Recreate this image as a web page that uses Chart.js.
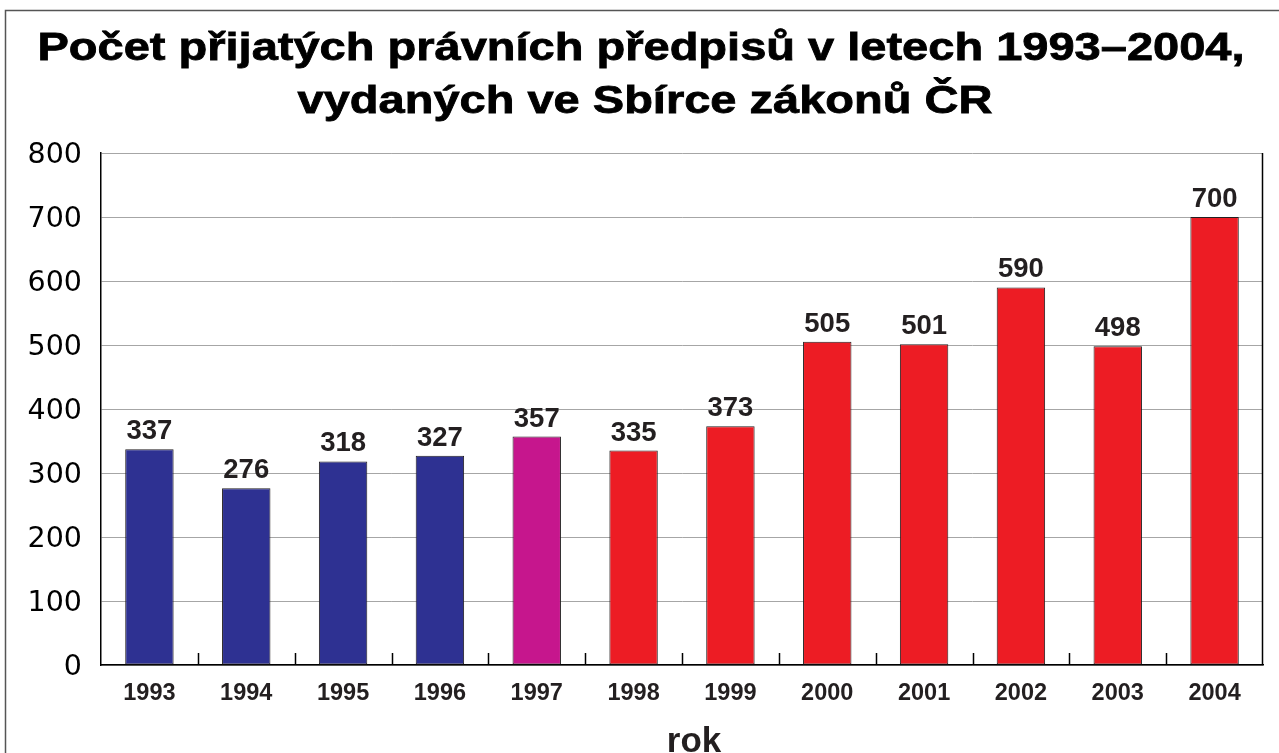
<!DOCTYPE html>
<html>
<head>
<meta charset="utf-8">
<script src="https://cdn.jsdelivr.net/npm/chart.js@4.4.1/dist/chart.umd.min.js"></script>
<style>
  html, body { margin: 0; padding: 0; background: #fff; }
  #wrap { width: 1279px; height: 753px; }
</style>
</head>
<body>
<div id="wrap"><canvas id="myChart" width="1279" height="753"></canvas></div>
<script>
const years = ["1993", "1994", "1995", "1996", "1997", "1998", "1999", "2000", "2001", "2002", "2003", "2004"];
const counts = [337, 276, 318, 327, 357, 335, 373, 505, 501, 590, 498, 700];
const yTicks = [0, 100, 200, 300, 400, 500, 600, 700, 800];
const titleLines = ["Počet přijatých právních předpisů v letech 1993–2004,", "vydaných ve Sbírce zákonů ČR"];

const NAVY = "#2e3192";
const MAGENTA = "#c6168d";
const RED = "#ed1c24";
const barColors = [NAVY, NAVY, NAVY, NAVY, MAGENTA, RED, RED, RED, RED, RED, RED, RED];

const FONT = "'Liberation Sans', Arial, Helvetica, sans-serif";
const WIDE = "'DejaVu Sans', 'Liberation Sans', sans-serif";
const TEXT = "#231f20";

// white background + frame around the picture
const framePlugin = {
  id: "frame",
  beforeDraw(chart) {
    const ctx = chart.ctx;
    ctx.save();
    ctx.fillStyle = "#fff";
    ctx.fillRect(0, 0, chart.width, chart.height);
    ctx.strokeStyle = "#555";
    ctx.lineWidth = 1.5;
    ctx.strokeRect(5.5, 10.5, chart.width + 20, chart.height + 20);
    ctx.restore();
  }
};

// wide heavy text, stretched a bit like the original heading face
const drawWide = (ctx, text, cx, y, sx) => {
  ctx.save();
  ctx.translate(cx, y);
  ctx.scale(sx, 1);
  ctx.lineWidth = 0.8;
  ctx.strokeStyle = ctx.fillStyle;
  ctx.fillText(text, 0, 0);
  ctx.strokeText(text, 0, 0);
  ctx.restore();
};

// small upward ticks between categories, right border, value labels, axis name, title
const extrasPlugin = {
  id: "extras",
  afterDatasetsDraw(chart) {
    const ctx = chart.ctx;
    const x = chart.scales.x;
    const area = chart.chartArea;
    ctx.save();
    ctx.strokeStyle = "#000";
    ctx.lineWidth = 1.5;
    ctx.beginPath();
    for (let i = 1; i < years.length; i++) {
      const px = Math.round((x.getPixelForValue(i - 1) + x.getPixelForValue(i)) / 2) + 0.5;
      ctx.moveTo(px, area.bottom);
      ctx.lineTo(px, area.bottom - 12);
    }
    ctx.moveTo(Math.round(area.right) - 0.5, area.top);
    ctx.lineTo(Math.round(area.right) - 0.5, area.bottom);
    ctx.stroke();

    const meta = chart.getDatasetMeta(0);
    ctx.fillStyle = TEXT;
    ctx.font = "bold 27.5px " + FONT;
    ctx.textAlign = "center";
    ctx.textBaseline = "alphabetic";
    meta.data.forEach((bar, i) => {
      ctx.fillText(String(counts[i]), bar.x, bar.y - 10);
    });

    ctx.font = "bold 35px " + FONT;
    ctx.fillText("rok", (area.left + area.right) / 2 + 12, chart.height - 1);

    ctx.fillStyle = "#000";
    ctx.font = "bold 39.5px " + FONT;
    drawWide(ctx, titleLines[0], 641, 60, 1.19);
    drawWide(ctx, titleLines[1], 645, 113, 1.19);
    ctx.restore();
  }
};

const ctx = document.getElementById("myChart").getContext("2d");
const myChart = new Chart(ctx, {
  type: "bar",
  data: {
    labels: years,
    datasets: [{
      data: counts,
      backgroundColor: barColors,
      borderColor: "#231f20",
      borderWidth: 1,
      borderSkipped: false,
      barPercentage: 0.5,
      categoryPercentage: 1.0
    }]
  },
  options: {
    responsive: false,
    animation: false,
    layout: { padding: { left: 0, right: 16, top: 153, bottom: 0 } },
    plugins: {
      legend: { display: false },
      tooltip: { enabled: false },
      title: { display: false }
    },
    scales: {
      x: {
        offset: true,
        grid: { display: false, drawTicks: false },
        border: { display: true, color: "#000", width: 1.5 },
        ticks: {
          color: TEXT,
          font: { family: FONT, size: 23.5, weight: "bold" },
          padding: 14,
          maxRotation: 0,
          autoSkip: false
        },
        afterFit(scale) { scale.height = 88; }
      },
      y: {
        min: 0,
        max: 800,
        afterBuildTicks(scale) { scale.ticks = yTicks.map(v => ({ value: v })); },
        grid: { color: "#a6a6a6", lineWidth: 1, drawTicks: false },
        border: { display: true, color: "#000", width: 1.5 },
        ticks: {
          color: "#000",
          font: { family: WIDE, size: 28.5 },
          padding: 19,
          labelOffset: 3
        },
        afterFit(scale) { scale.width = 101; }
      }
    }
  },
  plugins: [framePlugin, extrasPlugin]
});
</script>
</body>
</html>
